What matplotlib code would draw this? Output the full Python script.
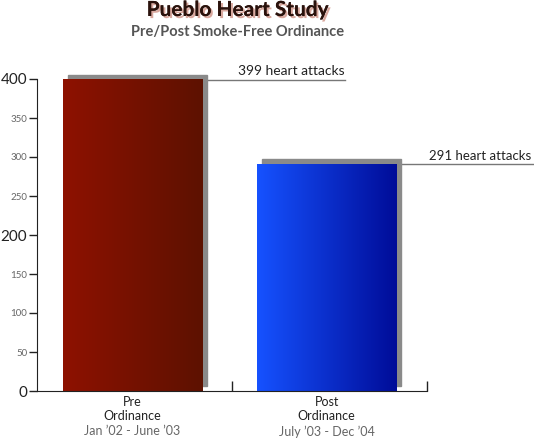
import numpy as np
import matplotlib
matplotlib.use('Agg')
import matplotlib.pyplot as plt
import matplotlib.patheffects as pe
from matplotlib.transforms import ScaledTranslation
from matplotlib.colors import LinearSegmentedColormap

# data
groups = ['Pre\nOrdinance', 'Post\nOrdinance']
periods = ["Jan \u201902 - June \u201903", "July \u201903 - Dec \u201904"]
attacks = [399, 291]
bar_colors = [('#8e1200', '#5d1100'), ('#1652ff', '#000c98')]
big_ticks = [0, 200, 400]
small_ticks = [50, 100, 150, 250, 300, 350]

plt.rcParams['font.family'] = ['Lato', 'DejaVu Sans']

fig = plt.figure(figsize=(5.34, 4.44), dpi=100)
ax = fig.add_axes([37/534, 1 - 391/444, 390/534, 312/444])

centers = [0.49, 1.485]
width = 0.715
shift = ScaledTranslation(5/100, 5/100, fig.dpi_scale_trans)
grad = np.linspace(0, 1, 256).reshape(1, -1)

for c, val, (c0, c1) in zip(centers, attacks, bar_colors):
    x0, x1 = c - width/2, c + width/2
    # drop shadow behind the bar
    sh = plt.Rectangle((x0, 0), width, val, color='#8a8a8a', zorder=1,
                       clip_on=False, transform=ax.transData + shift)
    ax.add_patch(sh)
    cmap = LinearSegmentedColormap.from_list('g', [c0, c1])
    ax.imshow(grad, cmap=cmap, extent=(x0, x1, 0, val), aspect='auto',
              zorder=2, interpolation='bicubic')

ax.set_xlim(0, 2)
ax.set_ylim(0, 400)

# value callouts
ax.plot([centers[0] + width/2 + 0.026, 1.58], [399, 399], color='#777777', lw=1,
        clip_on=False, zorder=0)
ax.text(1.03, 402, '399 heart attacks', fontsize=10, color='#222222',
        ha='left', va='bottom')
ax.plot([centers[1] + width/2 + 0.02, 2.6], [291, 291], color='#777777', lw=1,
        clip_on=False, zorder=0)
ax.text(2.01, 294, '291 heart attacks', fontsize=9.5, color='#222222',
        ha='left', va='bottom', clip_on=False)

# axes styling
for s in ['top', 'right']:
    ax.spines[s].set_visible(False)
ax.spines['left'].set_color('#222222')
ax.spines['bottom'].set_color('#222222')

ticks = big_ticks + small_ticks
ax.set_yticks(ticks)
ax.set_yticklabels([str(t) for t in ticks])
for lab, t in zip(ax.get_yticklabels(), ticks):
    if t in big_ticks:
        lab.set_fontsize(11)
        lab.set_color('#222222')
    else:
        lab.set_fontsize(7)
        lab.set_color('#666666')
ax.tick_params(axis='y', direction='out', length=6, width=1, pad=1, color='#222222')

ax.set_xticks([1, 2])
ax.set_xticklabels([])
ax.tick_params(axis='x', direction='in', length=7, width=1, color='#222222')

for c, g, p in zip(centers, groups, periods):
    ax.text(c, -6, g, ha='center', va='top',
            fontsize=9, color='#222222', linespacing=1.2)
    ax.text(c, -44, p, ha='center', va='top', fontsize=9, color='#666666')

fig.text(238/534, 1 - 10/444, 'Pueblo Heart Study', ha='center', va='center',
         fontsize=15, fontweight='bold', color='#2a120c',
         path_effects=[pe.withSimplePatchShadow(offset=(1.5, -1.5),
                                               shadow_rgbFace='#c07060', alpha=0.6),
                       pe.Normal()])
fig.text(238/534, 1 - 32/444, 'Pre/Post Smoke-Free Ordinance', ha='center',
         va='center', fontsize=10.5, color='#555555', fontweight='bold')

fig.savefig('out.png', dpi=100)
